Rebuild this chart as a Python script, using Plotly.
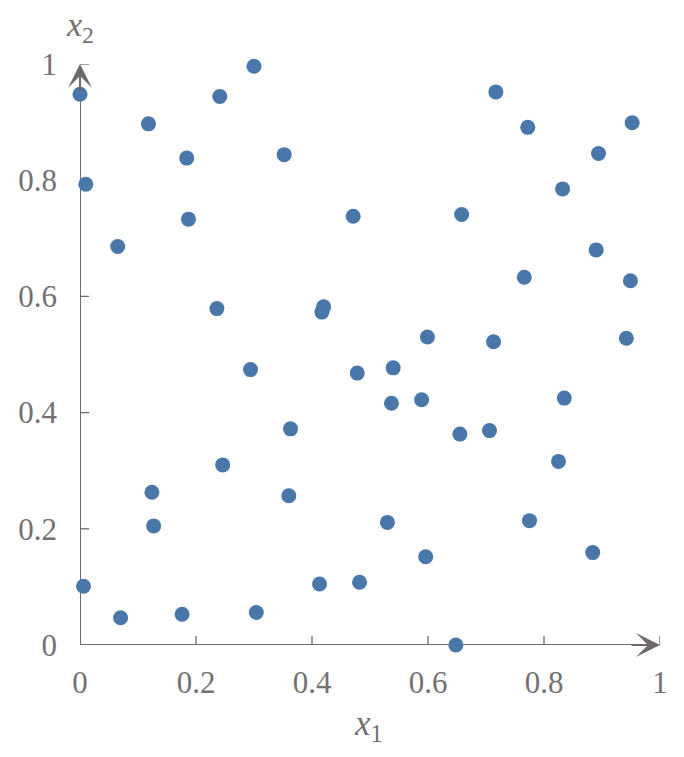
import plotly.graph_objects as go

# Sample points (x1, x2)
x1 = [0.000, 0.300, 0.241, 0.118, 0.184, 0.352, 0.010, 0.187, 0.065, 0.471,
      0.717, 0.772, 0.952, 0.894, 0.832, 0.658, 0.890, 0.236, 0.420, 0.417,
      0.294, 0.363, 0.246, 0.124, 0.360, 0.766, 0.949, 0.599, 0.713, 0.942,
      0.478, 0.540, 0.537, 0.589, 0.835, 0.655, 0.706, 0.825, 0.127, 0.006,
      0.413, 0.070, 0.176, 0.304, 0.530, 0.775, 0.596, 0.884, 0.482, 0.648]
x2 = [0.948, 0.996, 0.944, 0.897, 0.838, 0.844, 0.793, 0.733, 0.686, 0.738,
      0.952, 0.891, 0.899, 0.846, 0.785, 0.741, 0.680, 0.579, 0.582, 0.573,
      0.474, 0.372, 0.310, 0.263, 0.257, 0.633, 0.627, 0.530, 0.522, 0.528,
      0.468, 0.477, 0.416, 0.422, 0.425, 0.363, 0.369, 0.316, 0.205, 0.101,
      0.105, 0.047, 0.053, 0.056, 0.211, 0.214, 0.152, 0.159, 0.108, 0.000]

tick_vals = [0, 0.2, 0.4, 0.6, 0.8, 1]
tick_text = ["0", "0.2", "0.4", "0.6", "0.8", "1"]

AXIS = "#6e6a6b"
TEXT = "#747071"
DOT = "#4a77a9"
FONT = "Liberation Serif"

fig = go.Figure(go.Scatter(
    x=x1, y=x2, mode="markers",
    marker=dict(size=15, color=DOT, line=dict(width=0)),
    cliponaxis=False, hoverinfo="skip", showlegend=False,
))

shapes = [
    dict(type="line", xref="x", yref="y", x0=0, y0=0, x1=0.97, y1=0,
         line=dict(color=AXIS, width=2), layer="below"),
    dict(type="line", xref="x", yref="y", x0=0, y0=0, x1=0, y1=0.97,
         line=dict(color=AXIS, width=2), layer="below"),
]
for v in tick_vals:
    hi = 0 if v == 0 else 9
    shapes.append(dict(type="line", xref="x", yref="y", x0=v, x1=v,
                       ysizemode="pixel", yanchor=0, y0=-9, y1=hi,
                       line=dict(color=AXIS, width=1.3), layer="below"))
    shapes.append(dict(type="line", xref="x", yref="y", y0=v, y1=v,
                       xsizemode="pixel", xanchor=0, x0=-9, x1=hi,
                       line=dict(color=AXIS, width=1.3), layer="below"))

annotations = [
    dict(x=1, y=0, xref="x", yref="y", ax=-30, ay=0, text="", showarrow=True,
         arrowhead=3, arrowsize=2, arrowwidth=2, arrowcolor=AXIS),
    dict(x=0, y=1, xref="x", yref="y", ax=0, ay=30, text="", showarrow=True,
         arrowhead=3, arrowsize=2, arrowwidth=2, arrowcolor=AXIS),
    dict(x=0.498, y=0, xref="x", yref="y", yanchor="top", xanchor="center",
         yshift=-57, text="<i>x</i><sub>1</sub>", showarrow=False,
         font=dict(family=FONT, size=35, color=TEXT)),
    dict(x=0, y=1, xref="x", yref="y", yanchor="bottom", xanchor="center",
         yshift=14, text="<i>x</i><sub>2</sub>", showarrow=False,
         font=dict(family=FONT, size=34, color=TEXT)),
]

axis_common = dict(
    range=[0, 1], tickvals=tick_vals, ticktext=tick_text,
    showgrid=False, zeroline=False, showline=False, ticks="",
    tickfont=dict(family=FONT, size=31, color=TEXT),
    fixedrange=True, automargin=False,
)

fig.update_layout(
    width=676, height=749,
    margin=dict(l=72, r=24, t=56, b=112),
    paper_bgcolor="white", plot_bgcolor="white",
    xaxis=dict(axis_common, ticklabelstandoff=16),
    yaxis=dict(axis_common, ticklabelstandoff=22),
    shapes=shapes, annotations=annotations,
)

fig.write_html("out.html")
